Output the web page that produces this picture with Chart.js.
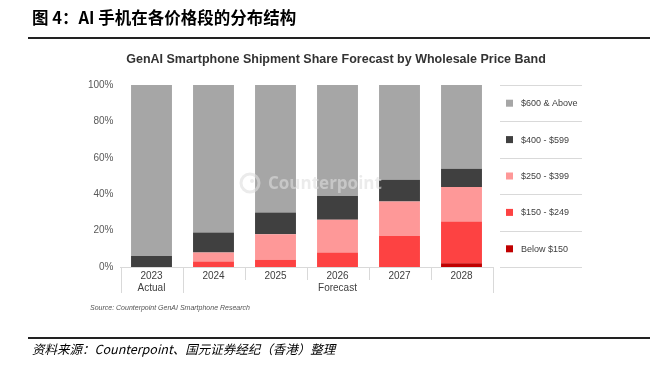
<!DOCTYPE html>
<html>
<head>
<meta charset="utf-8">
<script src="https://cdn.jsdelivr.net/npm/chart.js@4.4.1/dist/chart.umd.min.js"></script>
<style>
  html, body { margin: 0; padding: 0; background: #fff; }
  #wrap { width: 662px; height: 366px; position: relative; }
</style>
</head>
<body>
<div id="wrap"><canvas id="chart" width="662" height="366"></canvas></div>
<script>
// DATA
const years = ["2023", "2024", "2025", "2026", "2027", "2028"];
const below150 = [0, 0, 0, 0, 0, 2];
const band150 = [0, 3, 4, 8, 17, 23];
const band250 = [0, 5, 14, 18, 19, 19];
const band400 = [6, 11, 12, 13, 12, 10];
const band600 = [94, 81, 70, 61, 52, 46];
const yTicks = [0, 20, 40, 60, 80, 100];

const seriesNames = ["Below $150", "$150 - $249", "$250 - $399", "$400 - $599", "$600 & Above"];
const colors = ["#c00000", "#fd4242", "#fe9898", "#404040", "#a6a6a6"];

// plot box
const PLOT_LEFT = 120.5, PLOT_RIGHT = 492.5, PLOT_TOP = 85, PLOT_BOTTOM = 267;

// texts and decorations around the chart
const decor = {
  id: "decor",
  afterDraw(chart) {
    const ctx = chart.ctx;
    const area = chart.chartArea;
    const x = chart.scales.x;
    ctx.save();

    // header
    ctx.fillStyle = "#000";
    ctx.font = "bold 16.5px 'Noto Sans CJK SC'";
    ctx.textBaseline = "middle";
    ctx.textAlign = "left";
    ctx.fillText("图 4：AI 手机在各价格段的分布结构", 32, 18);
    ctx.fillStyle = "#222";
    ctx.fillRect(28, 37, 622, 2);
    ctx.fillRect(28, 337, 622, 2);

    // footer
    ctx.font = "italic 12.5px 'Noto Sans CJK SC'";
    ctx.fillStyle = "#000";
    ctx.fillText("资料来源：Counterpoint、国元证券经纪（香港）整理", 32, 349);

    // chart title
    ctx.font = "bold 12.5px 'Liberation Sans', Arial";
    ctx.fillStyle = "#333";
    ctx.textAlign = "center";
    ctx.fillText("GenAI Smartphone Shipment Share Forecast by Wholesale Price Band", 336, 60);

    // source
    ctx.font = "italic 7px 'Liberation Sans', Arial";
    ctx.fillStyle = "#555";
    ctx.textAlign = "left";
    ctx.fillText("Source: Counterpoint GenAI Smartphone Research", 90, 308);

    // category separators
    ctx.strokeStyle = "#d9d9d9";
    ctx.lineWidth = 1;
    const step = (area.right - area.left) / years.length;
    for (let i = 0; i <= years.length; i++) {
      const px = Math.round(area.left + i * step) + 0.5;
      const long = (i === 0 || i === 1 || i === years.length);
      ctx.beginPath();
      ctx.moveTo(px, area.bottom);
      ctx.lineTo(px, area.bottom + (long ? 26 : 13));
      ctx.stroke();
    }
    // group labels
    ctx.font = "10px 'Liberation Sans', Arial";
    ctx.fillStyle = "#404040";
    ctx.textAlign = "center";
    ctx.fillText("Actual", x.getPixelForValue(0), area.bottom + 21);
    ctx.fillText("Forecast", (x.getPixelForValue(1) + x.getPixelForValue(5)) / 2, area.bottom + 21);

    // legend with row lines
    const rows = seriesNames.length;
    const lx0 = 500, lx1 = 582;
    const rowH = (area.bottom - area.top) / rows;
    ctx.strokeStyle = "#d9d9d9";
    for (let i = 0; i <= rows; i++) {
      const py = Math.round(area.top + i * rowH) + 0.5;
      ctx.beginPath();
      ctx.moveTo(lx0, py);
      ctx.lineTo(lx1, py);
      ctx.stroke();
    }
    ctx.font = "9px 'Liberation Sans', Arial";
    ctx.textAlign = "left";
    for (let i = 0; i < rows; i++) {
      const ds = chart.data.datasets[rows - 1 - i];
      const cy = area.top + (i + 0.5) * rowH;
      ctx.fillStyle = ds.backgroundColor;
      ctx.fillRect(506, cy - 3.5, 7, 7);
      ctx.fillStyle = "#404040";
      ctx.fillText(ds.label, 521, cy + 0.5);
    }
    ctx.restore();
  },
  afterDatasetsDraw(chart) {
    // watermark
    const ctx = chart.ctx;
    ctx.save();
    ctx.fillStyle = "rgba(222,222,222,0.6)";
    ctx.strokeStyle = "rgba(222,222,222,0.6)";
    ctx.lineWidth = 3;
    ctx.beginPath();
    ctx.arc(250, 183, 9, 0, Math.PI * 2);
    ctx.stroke();
    ctx.beginPath();
    ctx.arc(252, 181, 2, 0, Math.PI * 2);
    ctx.fill();
    ctx.font = "bold 17px 'Open Sans', Arial";
    ctx.textBaseline = "middle";
    ctx.fillText("Counterpoint", 268, 184);
    ctx.restore();
  }
};

const datasets = [below150, band150, band250, band400, band600].map((d, i) => ({
  label: seriesNames[i],
  data: d,
  backgroundColor: colors[i],
  borderWidth: 0,
  categoryPercentage: 1,
  barPercentage: 0.66
}));

new Chart(document.getElementById("chart"), {
  type: "bar",
  data: { labels: years, datasets: datasets },
  options: {
    responsive: false,
    animation: false,
    layout: { padding: { left: 0, right: 662 - PLOT_RIGHT, top: PLOT_TOP, bottom: 0 } },
    plugins: {
      legend: { display: false },
      tooltip: { enabled: false },
      title: { display: false }
    },
    scales: {
      x: {
        stacked: true,
        grid: { display: false, drawTicks: false },
        border: { display: true, color: "#d9d9d9" },
        ticks: { color: "#404040", font: { size: 10, family: "'Liberation Sans', Arial" }, padding: 3, maxRotation: 0 },
        afterFit(scale) { scale.height = 366 - PLOT_BOTTOM; }
      },
      y: {
        stacked: true,
        min: 0,
        max: 100,
        afterBuildTicks(scale) { scale.ticks = yTicks.map(v => ({ value: v })); },
        grid: { display: false, drawTicks: false },
        border: { display: false },
        ticks: {
          color: "#595959",
          font: { size: 10, family: "'Liberation Sans', Arial" },
          padding: 7,
          callback: v => v + "%"
        },
        afterFit(scale) { scale.width = PLOT_LEFT; }
      }
    }
  },
  plugins: [decor]
});
</script>
</body>
</html>
